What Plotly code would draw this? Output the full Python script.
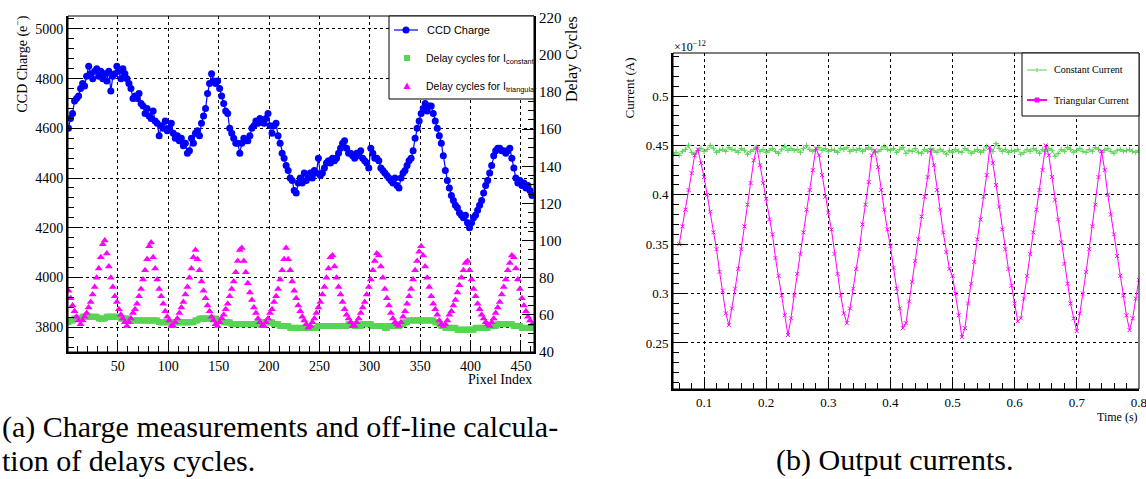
import numpy as np
import plotly.graph_objects as go

W, H = 1146, 479

# ---------------- Left panel data (pixel index step 2, from 1) ----------------
pixel_start, pixel_step = 1, 2
ccd_charge = [
    4600, 4640, 4660, 4710, 4720, 4730, 4760, 4780, 4770, 4810,
    4850, 4820, 4800, 4830, 4840, 4810, 4830, 4800, 4820, 4790,
    4830, 4750, 4810, 4820, 4850, 4830, 4800, 4840, 4820, 4800,
    4780, 4760, 4720, 4730, 4720, 4740, 4700, 4690, 4660, 4680,
    4650, 4640, 4670, 4630, 4620, 4570, 4610, 4600, 4630, 4590,
    4600, 4620, 4580, 4560, 4570, 4550, 4560, 4530, 4540, 4500,
    4510, 4560, 4540, 4580, 4590, 4570, 4620, 4650, 4680, 4740,
    4780, 4820, 4790, 4780, 4790, 4760, 4730, 4700, 4670, 4660,
    4600, 4580, 4560, 4540, 4540, 4500, 4540, 4560, 4550, 4550,
    4570, 4600, 4610, 4630, 4620, 4640, 4630, 4620, 4640, 4660,
    4610, 4580, 4610, 4620, 4570, 4540, 4500, 4480, 4450, 4430,
    4400, 4390, 4350, 4340, 4380, 4400, 4380, 4420, 4390, 4410,
    4420, 4400, 4430, 4420, 4480, 4410, 4420, 4440, 4460, 4470,
    4460, 4480, 4470, 4480, 4500, 4520, 4540, 4550, 4520, 4500,
    4500, 4490, 4480, 4500, 4490, 4510, 4480, 4470, 4460, 4440,
    4520, 4500, 4480, 4480, 4470, 4440, 4430, 4420, 4410, 4400,
    4390, 4380, 4400, 4370, 4360, 4400, 4420, 4430, 4450, 4470,
    4480, 4510, 4560, 4600, 4630, 4660, 4680, 4700, 4670, 4690,
    4690, 4660, 4630, 4600, 4570, 4540, 4490, 4430, 4390, 4360,
    4330, 4310, 4290, 4280, 4260, 4250, 4240, 4250, 4220, 4200,
    4220, 4240, 4250, 4270, 4290, 4310, 4340, 4370, 4390, 4420,
    4450, 4490, 4510, 4520, 4520, 4510, 4510, 4500, 4510, 4520,
    4480, 4440, 4400, 4380, 4390, 4370, 4380, 4360, 4370, 4350, 4330,
]
delay_constant = [
    56, 57, 57, 58, 58, 58, 58, 59, 59, 59,
    59, 59, 59, 59, 59, 58, 58, 58, 58, 59,
    59, 59, 59, 59, 59, 59, 58, 58, 58, 58,
    58, 57, 57, 57, 57, 57, 57, 57, 57, 57,
    57, 57, 57, 57, 57, 56, 56, 56, 56, 56,
    56, 56, 56, 56, 56, 56, 56, 56, 56, 56,
    56, 56, 56, 57, 57, 58, 58, 58, 58, 58,
    58, 58, 58, 58, 57, 57, 57, 56, 56, 56,
    56, 55, 55, 55, 55, 55, 55, 55, 55, 55,
    55, 55, 55, 55, 56, 56, 56, 56, 56, 56,
    56, 56, 55, 55, 55, 54, 54, 54, 54, 54,
    53, 53, 53, 53, 53, 53, 53, 53, 53, 53,
    53, 53, 53, 53, 54, 54, 54, 54, 54, 54,
    54, 54, 54, 54, 54, 54, 54, 54, 54, 55,
    55, 55, 54, 54, 54, 54, 55, 55, 55, 55,
    55, 54, 54, 54, 54, 54, 54, 53, 53, 54,
    54, 54, 54, 54, 54, 55, 55, 56, 56, 57,
    57, 57, 57, 57, 57, 57, 57, 57, 57, 57,
    57, 57, 56, 56, 55, 54, 54, 53, 53, 53,
    53, 53, 53, 52, 52, 52, 52, 52, 52, 52,
    52, 52, 53, 53, 53, 53, 53, 53, 53, 54,
    54, 54, 54, 55, 55, 55, 55, 55, 55, 55,
    55, 54, 54, 54, 54, 53, 53, 53, 53, 53, 53,
]
delay_triangular = [
    73, 69, 65, 62, 59, 57, 55, 57, 59, 61,
    64, 67, 71, 75, 80, 85, 91, 98, 100, 93,
    86, 80, 75, 70, 67, 63, 60, 58, 56, 54,
    56, 58, 61, 63, 66, 70, 74, 79, 84, 90,
    97, 99, 91, 85, 79, 74, 70, 66, 62, 59,
    57, 54, 54, 56, 58, 61, 64, 67, 71, 75,
    80, 85, 91, 95, 90, 84, 78, 73, 69, 65,
    62, 59, 57, 55, 54, 56, 58, 60, 63, 66,
    70, 74, 78, 83, 89, 95, 96, 89, 83, 77,
    72, 68, 64, 61, 58, 56, 54, 54, 56, 58,
    61, 63, 67, 70, 74, 79, 84, 90, 96, 90,
    84, 78, 73, 69, 65, 62, 59, 57, 55, 53,
    54, 56, 58, 61, 64, 67, 71, 75, 80, 85,
    91, 92, 86, 80, 75, 71, 67, 63, 60, 58,
    56, 54, 54, 56, 58, 61, 64, 67, 71, 75,
    79, 84, 89, 93, 92, 86, 80, 74, 69, 65,
    61, 58, 56, 55, 54, 56, 59, 62, 66, 70,
    74, 79, 84, 89, 94, 97, 92, 86, 80, 75,
    70, 66, 63, 60, 57, 55, 54, 55, 57, 60,
    62, 65, 68, 72, 76, 80, 84, 88, 89, 84,
    79, 74, 70, 66, 63, 60, 58, 56, 55, 54,
    56, 58, 61, 64, 67, 71, 75, 79, 84, 88,
    92, 91, 85, 79, 74, 69, 65, 62, 59, 57, 55,
]
pix_ticks = [50, 100, 150, 200, 250, 300, 350, 400, 450]
charge_ticks = [3800, 4000, 4200, 4400, 4600, 4800, 5000]
delay_ticks = [40, 60, 80, 100, 120, 140, 160, 180, 200, 220]

# ---------------- Right panel data (time in s, current in 1e-12 A) ----------------
tri_t0, const_t0, t_step = 0.06, 0.05, 0.005
triangular_current = [
    0.350, 0.368, 0.385, 0.405, 0.422, 0.440, 0.446, 0.432, 0.418, 0.400,
    0.383, 0.362, 0.345, 0.322, 0.303, 0.280, 0.268, 0.285, 0.305, 0.325,
    0.345, 0.368, 0.390, 0.412, 0.435, 0.448, 0.430, 0.412, 0.396, 0.375,
    0.360, 0.336, 0.318, 0.298, 0.278, 0.258, 0.275, 0.298, 0.320, 0.340,
    0.362, 0.385, 0.405, 0.425, 0.447, 0.440, 0.420, 0.398, 0.382, 0.365,
    0.340, 0.320, 0.298, 0.280, 0.270, 0.285, 0.305, 0.325, 0.345, 0.370,
    0.390, 0.413, 0.440, 0.445, 0.428, 0.405, 0.385, 0.365, 0.348, 0.326,
    0.305, 0.285, 0.265, 0.270, 0.292, 0.312, 0.333, 0.355, 0.378, 0.398,
    0.418, 0.445, 0.430, 0.405, 0.385, 0.362, 0.342, 0.325, 0.318, 0.300,
    0.278, 0.256, 0.265, 0.290, 0.310, 0.332, 0.355, 0.375, 0.398, 0.420,
    0.448, 0.432, 0.410, 0.388, 0.365, 0.345, 0.325, 0.308, 0.290, 0.272,
    0.275, 0.295, 0.318, 0.340, 0.362, 0.385, 0.405, 0.425, 0.450, 0.440,
    0.418, 0.395, 0.375, 0.352, 0.330, 0.310, 0.290, 0.275, 0.262, 0.280,
    0.300, 0.322, 0.345, 0.368, 0.390, 0.418, 0.444, 0.425, 0.400, 0.380,
    0.360, 0.338, 0.318, 0.298, 0.278, 0.263, 0.275, 0.295, 0.314,
]
constant_current = [
    0.441, 0.443, 0.440, 0.444, 0.446, 0.450, 0.443, 0.441, 0.445, 0.447,
    0.444, 0.446, 0.450, 0.447, 0.443, 0.445, 0.446, 0.444, 0.448, 0.446,
    0.445, 0.443, 0.447, 0.445, 0.441, 0.444, 0.446, 0.448, 0.444, 0.446,
    0.443, 0.445, 0.447, 0.444, 0.442, 0.446, 0.449, 0.445, 0.447, 0.445,
    0.446, 0.443, 0.447, 0.450, 0.446, 0.444, 0.446, 0.448, 0.445, 0.447,
    0.444, 0.446, 0.445, 0.443, 0.447, 0.446, 0.448, 0.444, 0.446, 0.445,
    0.447, 0.444, 0.446, 0.448, 0.446, 0.443, 0.444, 0.446, 0.449, 0.446,
    0.445, 0.447, 0.443, 0.446, 0.448, 0.442, 0.445, 0.444, 0.447, 0.443,
    0.442, 0.446, 0.444, 0.447, 0.445, 0.443, 0.446, 0.444, 0.441, 0.445,
    0.443, 0.446, 0.444, 0.443, 0.447, 0.445, 0.442, 0.444, 0.446, 0.443,
    0.445, 0.449, 0.446, 0.444, 0.452, 0.447, 0.444, 0.446, 0.443, 0.445,
    0.444, 0.446, 0.441, 0.443, 0.446, 0.444, 0.447, 0.445, 0.442, 0.446,
    0.444, 0.447, 0.445, 0.439, 0.442, 0.446, 0.444, 0.448, 0.446, 0.443,
    0.445, 0.447, 0.444, 0.443, 0.446, 0.444, 0.448, 0.446, 0.443, 0.445,
    0.447, 0.444, 0.442, 0.445, 0.446, 0.444, 0.445, 0.446, 0.444, 0.443, 0.445,
]
time_ticks = [0.1, 0.2, 0.3, 0.4, 0.5, 0.6, 0.7, 0.8]
time_labels = ["0.1", "0.2", "0.3", "0.4", "0.5", "0.6", "0.7", "0.8"]
current_ticks = [0.25, 0.3, 0.35, 0.4, 0.45, 0.5]
current_labels = ["0.25", "0.3", "0.35", "0.4", "0.45", "0.5"]

BLUE, GREEN, MAGENTA = "#0000FF", "#59D454", "#FF00FF"
SERIF, SANS = "Liberation Serif", "Liberation Sans"

pix = [pixel_start + pixel_step * i for i in range(len(ccd_charge))]
pix_c = [pixel_start + pixel_step * i for i in range(len(delay_constant))]
pix_t = [pixel_start + pixel_step * i for i in range(len(delay_triangular))]
t_tri = [round(tri_t0 + t_step * i, 4) for i in range(len(triangular_current))]
t_const = [round(const_t0 + t_step * i, 4) for i in range(len(constant_current))]


def px(x):
    return x / W


def py(y):
    return 1 - y / H


fig = go.Figure()
fig.add_trace(go.Scatter(x=pix_c, y=delay_constant, mode="markers", xaxis="x", yaxis="y2",
                         marker=dict(symbol="square", size=6, color=GREEN)))
fig.add_trace(go.Scatter(x=pix_t, y=delay_triangular, mode="markers", xaxis="x", yaxis="y2",
                         marker=dict(symbol="triangle-up", size=7, color=MAGENTA)))
fig.add_trace(go.Scatter(x=pix, y=ccd_charge, mode="lines+markers", xaxis="x", yaxis="y",
                         line=dict(color=BLUE, width=1.2),
                         marker=dict(symbol="circle", size=7, color=BLUE)))
fig.add_trace(go.Scatter(x=t_const, y=constant_current, mode="lines+markers", xaxis="x2", yaxis="y3",
                         line=dict(color=GREEN, width=1),
                         marker=dict(symbol="cross-thin", size=4, line=dict(color=GREEN, width=1))))
fig.add_trace(go.Scatter(x=t_tri, y=triangular_current, mode="lines+markers", xaxis="x2", yaxis="y3",
                         line=dict(color=MAGENTA, width=1),
                         marker=dict(symbol="x-thin", size=4, line=dict(color=MAGENTA, width=1))))

tickfont = dict(family=SERIF, size=14, color="black")
common = dict(ticks="inside", tickcolor="black", tickwidth=1, showline=True, linecolor="black",
              linewidth=2, zeroline=False, automargin=False, tickfont=tickfont,
              ticklabeloverflow="allow")
grid = dict(showgrid=True, gridcolor="black", gridwidth=1, griddash="dot")
smallfont = dict(family=SERIF, size=13, color="black")

fig.update_layout(
    template="none",
    width=W, height=H, margin=dict(l=0, r=0, t=0, b=0, pad=0, autoexpand=False),
    paper_bgcolor="white", plot_bgcolor="white", showlegend=False,
    xaxis=dict(domain=[px(68), px(534)], anchor="y", range=[0.5, 463],
               tickvals=pix_ticks, ticklen=12,
               minor=dict(dtick=10, tick0=0, ticklen=6, ticks="inside", tickcolor="black", showgrid=False),
               **common, **grid),
    yaxis=dict(domain=[py(352), py(16)], anchor="x", range=[3700, 5052],
               tickvals=charge_ticks, ticklen=12,
               minor=dict(dtick=40, tick0=0, ticklen=6, ticks="inside", tickcolor="black", showgrid=False),
               **common, **grid),
    yaxis2=dict(overlaying="y", anchor="x", side="right", range=[40, 221],
                tickvals=delay_ticks, ticklen=12, showgrid=False,
                minor=dict(dtick=5, tick0=0, ticklen=6, ticks="inside", tickcolor="black", showgrid=False),
                ticks="inside", tickcolor="black", showline=True, linecolor="black", linewidth=2,
                zeroline=False, automargin=False, ticklabeloverflow="allow",
                tickfont=dict(family=SERIF, size=15, color="black")),
    xaxis2=dict(domain=[px(673), px(1139)], anchor="y3", range=[0.05, 0.8002],
                tickvals=time_ticks, ticktext=time_labels, ticklen=12,
                minor=dict(dtick=0.02, tick0=0, ticklen=6, ticks="inside", tickcolor="black", showgrid=False),
                **{**common, "tickfont": smallfont}, **grid),
    yaxis3=dict(domain=[py(389), py(53)], anchor="x2", range=[0.2034, 0.5436],
                tickvals=current_ticks, ticktext=current_labels, ticklen=12,
                minor=dict(dtick=0.01, tick0=0, ticklen=6, ticks="inside", tickcolor="black", showgrid=False),
                **{**common, "tickfont": smallfont}, **grid),
)

shapes = []
# plot frames (thin top/right borders)
for (x0, y0, x1, y1) in [(68, 16, 534, 352), (673, 53, 1139, 389)]:
    shapes.append(dict(type="rect", xref="paper", yref="paper", x0=px(x0), x1=px(x1), y0=py(y1), y1=py(y0),
                       line=dict(color="black", width=1), fillcolor="rgba(0,0,0,0)", layer="above"))
# left legend box
shapes.append(dict(type="rect", xref="paper", yref="paper", x0=px(389), x1=px(534), y0=py(99), y1=py(16),
                   line=dict(color="black", width=1), fillcolor="white", layer="above"))
shapes.append(dict(type="line", xref="paper", yref="paper", x0=px(394), x1=px(418), y0=py(30), y1=py(30),
                   line=dict(color=BLUE, width=1.2), layer="above"))
shapes.append(dict(type="circle", xref="paper", yref="paper", x0=px(402.5), x1=px(409.5), y0=py(33.5), y1=py(26.5),
                   line=dict(color=BLUE, width=0), fillcolor=BLUE, layer="above"))
shapes.append(dict(type="rect", xref="paper", yref="paper", x0=px(404), x1=px(410), y0=py(61), y1=py(55),
                   line=dict(color=GREEN, width=0), fillcolor=GREEN, layer="above"))
shapes.append(dict(type="path", xref="paper", yref="paper",
                   path=f"M {px(403.5)} {py(89)} L {px(410.5)} {py(89)} L {px(407)} {py(82.5)} Z",
                   line=dict(color=MAGENTA, width=0), fillcolor=MAGENTA, layer="above"))
# right legend box
shapes.append(dict(type="rect", xref="paper", yref="paper", x0=px(1022), x1=px(1139), y0=py(116), y1=py(53),
                   line=dict(color="black", width=1), fillcolor="white", layer="above"))
shapes.append(dict(type="line", xref="paper", yref="paper", x0=px(1027), x1=px(1047), y0=py(70), y1=py(70),
                   line=dict(color=GREEN, width=1), layer="above"))
shapes.append(dict(type="line", xref="paper", yref="paper", x0=px(1037), x1=px(1037), y0=py(72), y1=py(68),
                   line=dict(color=GREEN, width=1), layer="above"))
shapes.append(dict(type="line", xref="paper", yref="paper", x0=px(1027), x1=px(1047), y0=py(100), y1=py(100),
                   line=dict(color=MAGENTA, width=2), layer="above"))
shapes.append(dict(type="rect", xref="paper", yref="paper", x0=px(1035), x1=px(1039), y0=py(102), y1=py(98),
                   line=dict(color=MAGENTA, width=1), fillcolor=MAGENTA, layer="above"))
fig.update_layout(shapes=shapes)

ann = []


def add(text, x, y, xa="left", ya="middle", size=14, family=SERIF, angle=0, color="black"):
    ann.append(dict(text=text, x=px(x), y=py(y), xref="paper", yref="paper", xanchor=xa, yanchor=ya,
                    showarrow=False, textangle=angle, font=dict(family=family, size=size, color=color)))


add("CCD Charge (e<sup>−</sup>)", 22, 14, xa="center", ya="top", size=14, angle=-90)
add("Delay Cycles", 572, 14, xa="center", ya="top", size=16, angle=-90)
add("Pixel Index", 534, 379, xa="right", size=14)
add("CCD Charge", 425, 30, size=11, family=SANS)
add("Delay cycles for I<sub>constant</sub>", 424, 59, size=10.5, family=SANS)
add("Delay cycles for I<sub>triangular</sub>", 424, 87, size=10.5, family=SANS)
add("Current (A)", 629, 56, xa="center", ya="top", size=13, angle=-90)
add("×10<sup>−12</sup>", 672, 46, size=12)
add("Time (s)", 1140, 417, xa="right", size=12)
add("Constant Current", 1052, 70, size=10)
add("Triangular Current", 1052, 100, size=10)
add("(a) Charge measurements and off-line calcula-", 0, 427, size=30)
add("tion of delays cycles.", 0, 460, size=30)
add("(b) Output currents.", 774, 460, size=30)
fig.update_layout(annotations=ann)

fig.write_html("out.html", config={"displayModeBar": False},
               post_script="document.body.style.margin='0';document.body.style.overflow='hidden';")
